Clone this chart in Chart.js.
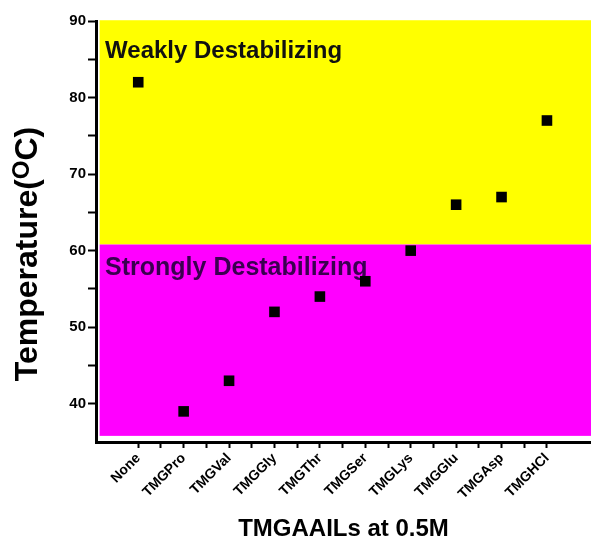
<!DOCTYPE html>
<html>
<head>
<meta charset="utf-8">
<script src="https://cdn.jsdelivr.net/npm/chart.js@4"></script>
<style>
  body { margin: 0; background: #fff; }
  canvas { display: block; }
</style>
</head>
<body>
<canvas id="myChart" width="591" height="544"></canvas>
<script>
const ctx = document.getElementById('myChart');

// data
const categories = ['None', 'TMGPro', 'TMGVal', 'TMGGly', 'TMGThr', 'TMGSer', 'TMGLys', 'TMGGlu', 'TMGAsp', 'TMGHCl'];
const temps = [82, 39, 43, 52, 54, 56, 60, 66, 67, 77];
const yTicks = [40, 50, 60, 70, 80, 90];

// shaded regions (in data units)
const weakRange = [60.8, 90.1];
const strongRange = [35.8, 60.8];
const regionLeft = -0.85;
const weakLabel = 'Weakly Destabilizing';
const strongLabel = 'Strongly Destabilizing';

const FONT = 'Arial, "Liberation Sans", sans-serif';

const bgPlugin = {
  id: 'regions',
  beforeDatasetsDraw(chart) {
    const c = chart.ctx, x = chart.scales.x, y = chart.scales.y;
    const left = x.getPixelForValue(regionLeft);
    const right = chart.chartArea.right;
    c.save();
    c.fillStyle = '#ffff00';
    let t = y.getPixelForValue(weakRange[1]), b = y.getPixelForValue(weakRange[0]);
    c.fillRect(left, t, right - left, b - t);
    c.fillStyle = '#ff00ff';
    t = y.getPixelForValue(strongRange[1]); b = y.getPixelForValue(strongRange[0]);
    c.fillRect(left, t, right - left, b - t);

    c.font = 'bold 24px ' + FONT;
    c.textBaseline = 'alphabetic';
    c.fillStyle = '#111';
    c.fillText(weakLabel, x.getPixelForValue(-0.73), y.getPixelForValue(85.2));
    c.fillStyle = '#3a0050';
    c.font = 'bold 25px ' + FONT;
    c.fillText(strongLabel, x.getPixelForValue(-0.73), y.getPixelForValue(56.8));
    c.restore();
  },
  afterDraw(chart) {
    // y title with superscript O
    const c = chart.ctx;
    c.save();
    c.translate(37, 254);
    c.rotate(-Math.PI / 2);
    c.fillStyle = '#000';
    c.textBaseline = 'alphabetic';
    const big = 'bold 32px ' + FONT, small = 'bold 24px ' + FONT;
    c.font = big;
    const w1 = c.measureText('Temperature(').width;
    const w3 = c.measureText('C)').width;
    c.font = small;
    const w2 = c.measureText('O').width;
    let px = -(w1 + w2 + w3) / 2;
    c.font = big;
    c.fillText('Temperature(', px, 0);
    px += w1;
    c.font = small;
    c.fillText('O', px, -8);
    px += w2;
    c.font = big;
    c.fillText('C)', px, 0);
    c.restore();
  }
};

new Chart(ctx, {
  type: 'scatter',
  data: {
    datasets: [{
      data: temps.map((v, i) => ({ x: i, y: v })),
      pointStyle: 'rect',
      pointRadius: 7.5,
      pointBackgroundColor: '#000',
      pointBorderWidth: 0
    }]
  },
  options: {
    responsive: false,
    animation: false,
    layout: { autoPadding: false, padding: { top: 21, right: 0, left: 0, bottom: 0 } },
    plugins: { legend: { display: false }, tooltip: { enabled: false } },
    scales: {
      x: {
        type: 'linear',
        min: -0.93,
        max: 9.97,
        afterFit(scale) { scale.height = 102; scale.paddingLeft = 0; scale.paddingRight = 0; },
        afterBuildTicks(scale) {
          scale.ticks = scale.ticks.filter(t => Math.abs(t.value * 2 - Math.round(t.value * 2)) < 1e-6);
        },
        ticks: {
          stepSize: 0.5,
          autoSkip: false,
          maxRotation: 45,
          minRotation: 45,
          padding: 2,
          color: '#000',
          font: { family: FONT, size: 14, weight: 'bold' },
          callback: v => (Number.isInteger(v) && v >= 0 && v < categories.length) ? categories[v] : ''
        },
        grid: { drawOnChartArea: false, tickLength: 6, tickColor: '#000', tickWidth: 2 },
        border: { color: '#000', width: 3 },
        title: {
          display: true,
          text: 'TMGAAILs at 0.5M',
          color: '#000',
          font: { family: FONT, size: 24, weight: 'bold' },
          padding: { top: 0, bottom: 0 }
        }
      },
      y: {
        min: 35,
        max: 90,
        afterFit(scale) { scale.width = 96; scale.paddingTop = 0; scale.paddingBottom = 0; },
        afterBuildTicks(scale) {
          scale.ticks = scale.ticks.filter(t => t.value > 35);
        },
        ticks: {
          stepSize: 5,
          padding: 2,
          color: '#000',
          font: { family: FONT, size: 15, weight: 'bold' },
          callback: v => yTicks.includes(v) ? v : ''
        },
        grid: { drawOnChartArea: false, tickLength: 8, tickColor: '#000', tickWidth: 2 },
        border: { color: '#000', width: 3 }
      }
    }
  },
  plugins: [bgPlugin]
});
</script>
</body>
</html>
